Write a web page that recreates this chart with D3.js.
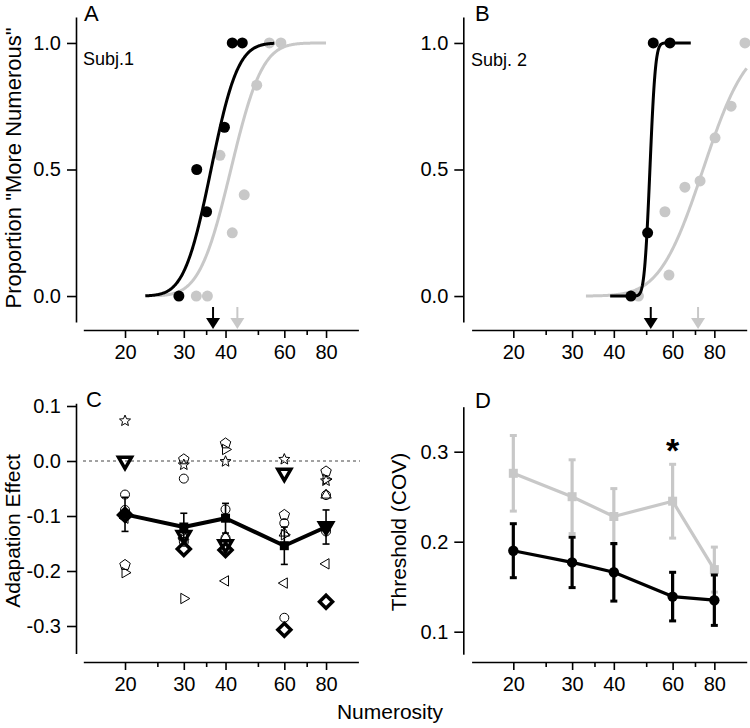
<!DOCTYPE html>
<html><head><meta charset="utf-8">
<script src="https://cdn.jsdelivr.net/npm/d3@7"></script>
<style>
body{margin:0;background:#fff}
svg{display:block}
text{font-family:"Liberation Sans",Arial,Helvetica,sans-serif;fill:#000}
</style>
</head><body>
<svg id="chart" width="750" height="728"></svg>
<script>
// ---------------- DATA ----------------
const majorTicks = [20, 30, 40, 60, 80];
const minorTicks = [25, 35, 50, 70];
const numerosity = [20, 30, 40, 60, 80];

// Panel A (Subj.1): adapted (black) and baseline (gray) proportions
const subj1AdaptX = [29.0, 32.8, 35.1, 39.7, 41.9, 44.9];
const subj1AdaptP = [0, 0.5, 0.333, 0.667, 1, 1];
const subj1BaseX  = [32.7, 35.3, 38.5, 41.9, 45.5, 49.6, 54.1, 58.6];
const subj1BaseP  = [0, 0, 0.556, 0.25, 0.4, 0.833, 1, 1];
// psychometric fits: [PSE, sigma(log units), from, to]
const fit1Adapt = [36.2, 0.145, 23, 56];
const fit1Base  = [41.5, 0.17, 25, 80];
const pse1 = [36.7, 43.4];   // arrows: adapted, baseline

// Panel B (Subj. 2)
const subj2AdaptX = [45.0, 50.5, 52.5, 58.9];
const subj2AdaptP = [0, 0.25, 1, 1];
const subj2BaseX  = [47.4, 56.9, 58.5, 65.3, 72.5, 80.4, 89.8, 98.8];
const subj2BaseP  = [0, 0.333, 0.083, 0.43, 0.455, 0.625, 0.75, 1];
const fit2Adapt = [51.3, 0.03, 39, 68];
const fit2Base  = [74, 0.235, 33, 100];
const pse2 = [51.6, 71.5];

// Panel C: adaptation effect per subject
const effStar     = [0.073, -0.007, -0.001, 0.003, -0.036];
const effPentagon = [-0.189, 0.003, 0.032, -0.098, -0.019];
const effCircle   = [-0.061, -0.032, -0.088, -0.113, -0.128];
const effCircle2  = [-0.089, -0.147, -0.140, -0.285, -0.062];
const effRightTri = [-0.203, -0.250, 0.021, -0.134, -0.033];
const effLeftTri  = [-0.104, -0.140, -0.218, -0.222, -0.187];
const effUpTri    = [-0.095, -0.138, -0.138, -0.131, -0.062];
const effDownTri  = [0.000, -0.135, -0.152, -0.022, -0.119];
const effDiamond  = [-0.098, -0.160, -0.162, -0.307, -0.256];
const effMean     = [-0.097, -0.120, -0.104, -0.154, -0.120];
const effSem      = [0.031, 0.025, 0.027, 0.034, 0.031];
const effTicks    = [-0.3, -0.2, -0.1, 0.0, 0.1];

// Panel D: thresholds
const thrBase     = [0.276, 0.250, 0.228, 0.245, 0.169];
const thrBaseSem  = [0.042, 0.041, 0.031, 0.041, 0.025];
const thrAdapt    = [0.190, 0.177, 0.166, 0.139, 0.135];
const thrAdaptSem = [0.030, 0.028, 0.032, 0.027, 0.028];
const thrSignif   = [false, false, false, true, false];
const thrTicks    = [0.1, 0.2, 0.3];

// ---------------- HELPERS ----------------
const GRAY = "#c8c8c8";
const TICK_FS = 20;
const svg = d3.select("#chart");
const fmt1 = d => d.toFixed(1);

function erf(x) {
  const s = x < 0 ? -1 : 1; x = Math.abs(x);
  const t = 1 / (1 + 0.3275911 * x);
  const y = 1 - (((((1.061405429 * t - 1.453152027) * t) + 1.421413741) * t - 0.284496736) * t + 0.254829592) * t * Math.exp(-x * x);
  return s * y;
}
const normcdf = z => 0.5 * (1 + erf(z / Math.SQRT2));

function styleAxis(g, fs) {
  g.selectAll(".domain").attr("stroke", "#000").attr("stroke-width", 1.6);
  g.selectAll(".tick line").attr("stroke", "#000").attr("stroke-width", 1.6);
  g.selectAll(".tick text").attr("font-size", fs).attr("font-family", '"Liberation Sans",Arial,sans-serif').attr("fill", "#000");
  g.attr("font-family", null).attr("font-size", null);
}

function drawXAxis(x, y) {
  const g1 = svg.append("g").attr("transform", `translate(0,${y})`)
    .call(d3.axisBottom(x).tickValues(majorTicks).tickFormat(d3.format("d")).tickSize(8).tickPadding(7).tickSizeOuter(0));
  styleAxis(g1, TICK_FS);
  const g2 = svg.append("g").attr("transform", `translate(0,${y})`)
    .call(d3.axisBottom(x).tickValues(minorTicks).tickFormat("").tickSize(5).tickSizeOuter(0));
  g2.select(".domain").remove();
  styleAxis(g2, TICK_FS);
}
function drawYAxis(yS, xPos, ticks) {
  const g = svg.append("g").attr("transform", `translate(${xPos},0)`)
    .call(d3.axisLeft(yS).tickValues(ticks).tickFormat(fmt1).tickSize(9).tickPadding(6).tickSizeOuter(0));
  styleAxis(g, TICK_FS);
}

function psychCurve(x, y, fit, color) {
  const [mu, sig, lo, hi] = fit;
  const n = 240;
  const pts = d3.range(n + 1).map(i => {
    const v = Math.exp(Math.log(lo) + (Math.log(hi) - Math.log(lo)) * i / n);
    return [x(v), y(normcdf(Math.log(v / mu) / sig))];
  });
  svg.append("path").attr("d", d3.line()(pts)).attr("fill", "none")
    .attr("stroke", color).attr("stroke-width", 3);
}
function dots(x, y, xs, ps, color) {
  svg.append("g").selectAll("circle").data(xs).join("circle")
    .attr("cx", d => x(d)).attr("cy", (d, i) => y(ps[i])).attr("r", 5.5).attr("fill", color);
}
function arrow(x, v, color) {
  const cx = x(v);
  svg.append("line").attr("x1", cx).attr("x2", cx).attr("y1", 307).attr("y2", 320)
    .attr("stroke", color).attr("stroke-width", 2);
  svg.append("path").attr("d", `M${cx - 7},318 L${cx + 7},318 L${cx},329 Z`).attr("fill", color);
}

function polyPath(n, r, startDeg) {
  const pts = d3.range(n).map(i => {
    const a = (startDeg + i * 360 / n) * Math.PI / 180;
    return [r * Math.cos(a), r * Math.sin(a)];
  });
  return "M" + pts.map(p => p.join(",")).join("L") + "Z";
}
function starPath(r) {
  const pts = d3.range(10).map(i => {
    const a = (-90 + i * 36) * Math.PI / 180;
    const rr = i % 2 ? r * 0.45 : r;
    return [rr * Math.cos(a), rr * Math.sin(a)];
  });
  return "M" + pts.map(p => p.join(",")).join("L") + "Z";
}
function circlePath(r) { return `M${-r},0A${r},${r} 0 1,0 ${r},0A${r},${r} 0 1,0 ${-r},0Z`; }

// ---------------- PANEL A ----------------
const xA = d3.scaleLog().domain([15, 100]).range([83.3, 358.4]);
const yA = d3.scaleLinear().domain([-0.103, 1.103]).range([322.1, 16.9]);
drawYAxis(yA, 76, [0, 0.5, 1]);
drawXAxis(xA, 330);
psychCurve(xA, yA, fit1Base, GRAY);
dots(xA, yA, subj1BaseX, subj1BaseP, GRAY);
psychCurve(xA, yA, fit1Adapt, "#000");
dots(xA, yA, subj1AdaptX, subj1AdaptP, "#000");
arrow(xA, pse1[1], GRAY);
arrow(xA, pse1[0], "#000");
svg.append("text").attr("x", 84).attr("y", 21).attr("font-size", 22).text("A");
svg.append("text").attr("x", 83).attr("y", 65).attr("font-size", 18).text("Subj.1");
svg.append("text").attr("transform", "translate(21,168) rotate(-90)").attr("text-anchor", "middle")
  .attr("font-size", 22).text('Proportion "More Numerous"');

// ---------------- PANEL B ----------------
const xB = d3.scaleLog().domain([15, 100]).range([471.6, 746.7]);
const yB = yA;
drawYAxis(yB, 463.3, [0, 0.5, 1]);
drawXAxis(xB, 330);
psychCurve(xB, yB, fit2Base, GRAY);
dots(xB, yB, subj2BaseX, subj2BaseP, GRAY);
psychCurve(xB, yB, fit2Adapt, "#000");
dots(xB, yB, subj2AdaptX, subj2AdaptP, "#000");
arrow(xB, pse2[1], GRAY);
arrow(xB, pse2[0], "#000");
svg.append("text").attr("x", 475).attr("y", 21).attr("font-size", 22).text("B");
svg.append("text").attr("x", 471).attr("y", 66).attr("font-size", 18).text("Subj. 2");

// ---------------- PANEL C ----------------
const xC = xA;
const yC = d3.scaleLinear().domain([-0.35, 0.105]).range([653.5, 403.25]);
drawYAxis(yC, 76, effTicks);
drawXAxis(xC, 662);
svg.append("line").attr("x1", 83).attr("x2", 360).attr("y1", yC(0)).attr("y2", yC(0))
  .attr("stroke", "#444").attr("stroke-width", 1).attr("stroke-dasharray", "3,3");

const subjectsC = [
  { v: effStar,     path: () => starPath(5.8),         w: 1 },
  { v: effPentagon, path: () => polyPath(5, 5.5, -90), w: 1 },
  { v: effCircle,   path: () => circlePath(4.5),       w: 1 },
  { v: effCircle2,  path: () => circlePath(4.5),       w: 1 },
  { v: effRightTri, path: () => polyPath(3, 6, 0),     w: 1 },
  { v: effLeftTri,  path: () => polyPath(3, 6, 180),   w: 1 },
  { v: effUpTri,    path: () => polyPath(3, 6, -90),   w: 1 }
];
const boldC = [
  { v: effDownTri, path: () => polyPath(3, 7.5, 90), w: 3.5 },
  { v: effDiamond, path: () => polyPath(4, 6.5, -90), w: 3.5 }
];
subjectsC.forEach(s => {
  svg.append("g").selectAll("path").data(s.v).join("path")
    .attr("transform", (d, i) => `translate(${xC(numerosity[i])},${yC(d)})`)
    .attr("d", s.path()).attr("fill", "none").attr("stroke", "#000").attr("stroke-width", s.w);
});
// mean with error bars
const gm = svg.append("g");
effMean.forEach((m, i) => {
  const cx = xC(numerosity[i]);
  gm.append("line").attr("x1", cx).attr("x2", cx).attr("y1", yC(m + effSem[i])).attr("y2", yC(m - effSem[i]))
    .attr("stroke", "#000").attr("stroke-width", 1.6);
  [m + effSem[i], m - effSem[i]].forEach(e => gm.append("line").attr("x1", cx - 3.5).attr("x2", cx + 3.5)
    .attr("y1", yC(e)).attr("y2", yC(e)).attr("stroke", "#000").attr("stroke-width", 1.6));
});
gm.append("path").attr("d", d3.line()(effMean.map((m, i) => [xC(numerosity[i]), yC(m)])))
  .attr("fill", "none").attr("stroke", "#000").attr("stroke-width", 4).attr("stroke-linejoin", "round");
gm.selectAll("rect").data(effMean).join("rect")
  .attr("x", (d, i) => xC(numerosity[i]) - 4.5).attr("y", d => yC(d) - 4.5)
  .attr("width", 9).attr("height", 9).attr("fill", "#000");
boldC.forEach(s => {
  svg.append("g").selectAll("path").data(s.v).join("path")
    .attr("transform", (d, i) => `translate(${xC(numerosity[i])},${yC(d)})`)
    .attr("d", s.path()).attr("fill", "none").attr("stroke", "#000").attr("stroke-width", s.w)
    .attr("stroke-linejoin", "miter");
});
svg.append("text").attr("x", 86).attr("y", 407).attr("font-size", 22).text("C");
svg.append("text").attr("transform", "translate(20,531) rotate(-90)").attr("text-anchor", "middle")
  .attr("font-size", 21).text("Adapation Effect");

// ---------------- PANEL D ----------------
const xD = xB;
const yD = d3.scaleLinear().domain([0.075, 0.35]).range([654.2, 406.7]);
drawYAxis(yD, 463.3, thrTicks);
drawXAxis(xD, 662);

function series(vals, sems, color, lw, marker) {
  const g = svg.append("g");
  vals.forEach((m, i) => {
    const cx = xD(numerosity[i]);
    g.append("line").attr("x1", cx).attr("x2", cx).attr("y1", yD(m + sems[i])).attr("y2", yD(m - sems[i]))
      .attr("stroke", color).attr("stroke-width", 3.2);
    [m + sems[i], m - sems[i]].forEach(e => g.append("line").attr("x1", cx - 3.5).attr("x2", cx + 3.5)
      .attr("y1", yD(e)).attr("y2", yD(e)).attr("stroke", color).attr("stroke-width", 3));
  });
  g.append("path").attr("d", d3.line()(vals.map((m, i) => [xD(numerosity[i]), yD(m)])))
    .attr("fill", "none").attr("stroke", color).attr("stroke-width", lw).attr("stroke-linejoin", "round");
  if (marker === "square") {
    g.selectAll("rect").data(vals).join("rect")
      .attr("x", (d, i) => xD(numerosity[i]) - 4.5).attr("y", d => yD(d) - 4.5)
      .attr("width", 9).attr("height", 9).attr("fill", color);
  } else {
    g.selectAll("circle").data(vals).join("circle")
      .attr("cx", (d, i) => xD(numerosity[i])).attr("cy", d => yD(d)).attr("r", 5.2).attr("fill", color);
  }
}
series(thrBase, thrBaseSem, GRAY, 3.2, "square");
series(thrAdapt, thrAdaptSem, "#000", 3.2, "circle");
svg.append("g").selectAll("text").data(thrSignif.map((s, i) => s ? i : -1).filter(i => i >= 0)).join("text")
  .attr("x", i => xD(numerosity[i])).attr("y", i => yD(thrBase[i] + thrBaseSem[i]) - 2)
  .attr("text-anchor", "middle").attr("font-size", 34).attr("font-weight", "bold").text("*");
svg.append("text").attr("x", 475).attr("y", 408).attr("font-size", 22).text("D");
svg.append("text").attr("transform", "translate(406,532) rotate(-90)").attr("text-anchor", "middle")
  .attr("font-size", 21).text("Threshold (COV)");

// shared x label
svg.append("text").attr("x", 390).attr("y", 719).attr("text-anchor", "middle").attr("font-size", 21).text("Numerosity");
</script>
</body></html>
